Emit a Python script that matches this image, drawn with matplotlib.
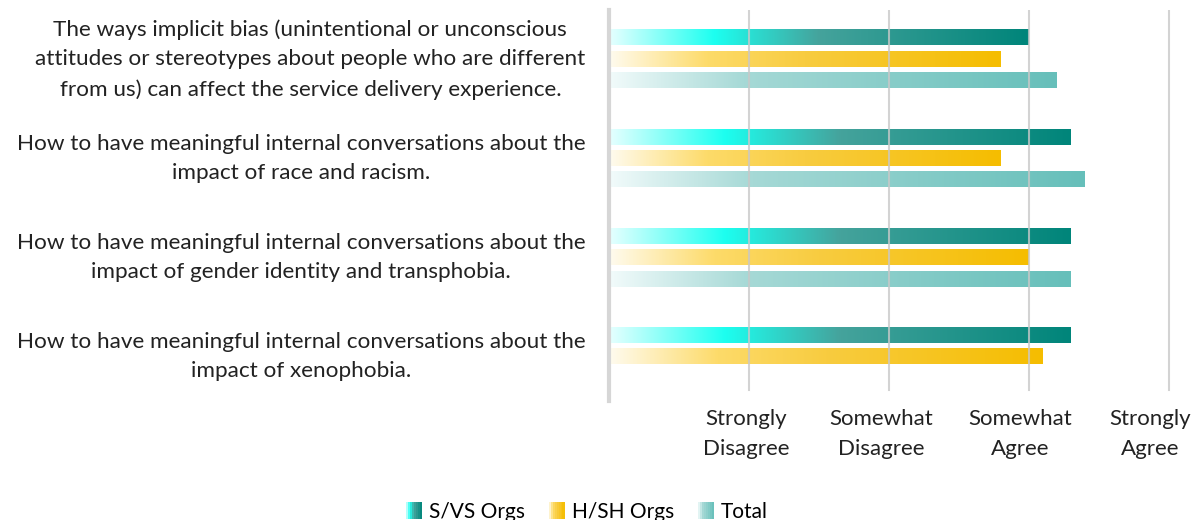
import numpy as np
import matplotlib.pyplot as plt
from matplotlib.colors import LinearSegmentedColormap
from matplotlib.legend_handler import HandlerBase
from matplotlib.patches import Rectangle
from matplotlib.transforms import offset_copy

plt.rcParams['font.family'] = ['Lato', 'DejaVu Sans']

questions = [
    "The ways implicit bias (unintentional or unconscious\nattitudes or stereotypes about people who are different\nfrom us) can affect the service delivery experience.",
    "How to have meaningful internal conversations about the\nimpact of race and racism.",
    "How to have meaningful internal conversations about the\nimpact of gender identity and transphobia.",
    "How to have meaningful internal conversations about the\nimpact of xenophobia.",
]
series_names = ["S/VS Orgs", "H/SH Orgs", "Total"]
svs = [3.0, 3.3, 3.3, 3.3]
hsh = [2.8, 2.8, 3.0, 3.1]
total = [3.2, 3.4, 3.3, np.nan]
tick_vals = [1, 2, 3, 4]
tick_labels = ["Strongly\nDisagree", "Somewhat\nDisagree", "Somewhat\nAgree", "Strongly\nAgree"]

cmaps = [
    LinearSegmentedColormap.from_list("svs", [(0, "#e6ffff"), (0.25, "#1cfff0"), (0.5, "#45a39c"), (1, "#00857a")]),
    LinearSegmentedColormap.from_list("hsh", [(0, "#fffbef"), (0.25, "#fddb6a"), (0.5, "#f8cc40"), (1, "#f5bd00")]),
    LinearSegmentedColormap.from_list("tot", [(0, "#f2fbfb"), (0.3, "#a6d9d6"), (1, "#66bfba")]),
]

fig = plt.figure(figsize=(12.04, 5.2), dpi=100)
ax = fig.add_axes([0.506, 0.219, 0.482, 0.762])

grad = np.linspace(0, 1, 256).reshape(1, -1)
bar_h = 0.152
step = 0.217
for gi in range(len(questions)):
    for si, vals in enumerate([svs, hsh, total]):
        v = vals[gi]
        if np.isnan(v):
            continue
        yc = gi + (si - 1) * step
        ax.imshow(grad, cmap=cmaps[si], aspect='auto', interpolation='bicubic',
                  extent=[0, v, yc + bar_h / 2, yc - bar_h / 2], zorder=2)

ax.set_xlim(0, 4.15)
ax.set_ylim(3.5, -0.5)
for t in tick_vals:
    ax.axvline(t, color='#c8c8c8', lw=1.5, alpha=0.8, zorder=3, ymin=0.04)
ax.set_xticks([])
ax.set_yticks([])

# category labels under the gridlines (last one nudged left to stay inside)
shifts = [-3, -8, -9, -18]
for t, lab, dx in zip(tick_vals, tick_labels, shifts):
    tr = offset_copy(ax.get_xaxis_transform(), fig=fig, x=dx, y=-3, units='dots')
    ax.text(t, 0, lab, transform=tr, ha='center', va='top', fontsize=16,
            color='#222222', linespacing=1.6)

for i, q in enumerate(questions):
    ax.text(-0.17, i, q, ha='right', va='center', multialignment='center',
            fontsize=16.2, color='#222222', linespacing=1.6)
for s in ['top', 'right', 'bottom']:
    ax.spines[s].set_visible(False)
ax.spines['left'].set_color('#d6d6d6')
ax.spines['left'].set_linewidth(3)
ax.spines['left'].set_bounds(3.45, -0.5)


class GradHandler(HandlerBase):
    def __init__(self, cmap):
        super().__init__()
        self.cmap = cmap

    def create_artists(self, legend, orig_handle, xdescent, ydescent, width, height, fontsize, trans):
        arts = []
        n = 8
        w = height * 1.05
        x0 = xdescent + width - w
        for k in range(n):
            r = Rectangle((x0 + k * w / n, -ydescent - 1), w / n + 0.3, height + 2,
                          facecolor=self.cmap((k + 0.5) / n), edgecolor='none', transform=trans)
            arts.append(r)
        return arts


handles = [Rectangle((0, 0), 1, 1) for _ in series_names]
fig.legend(handles, series_names, loc='lower center', bbox_to_anchor=(0.487, -0.04), ncol=3,
           frameon=False, fontsize=15, handlelength=0.8, handletextpad=0.35, columnspacing=1.1,
           handler_map={h: GradHandler(c) for h, c in zip(handles, cmaps)})

fig.savefig("out.png", dpi=100)
